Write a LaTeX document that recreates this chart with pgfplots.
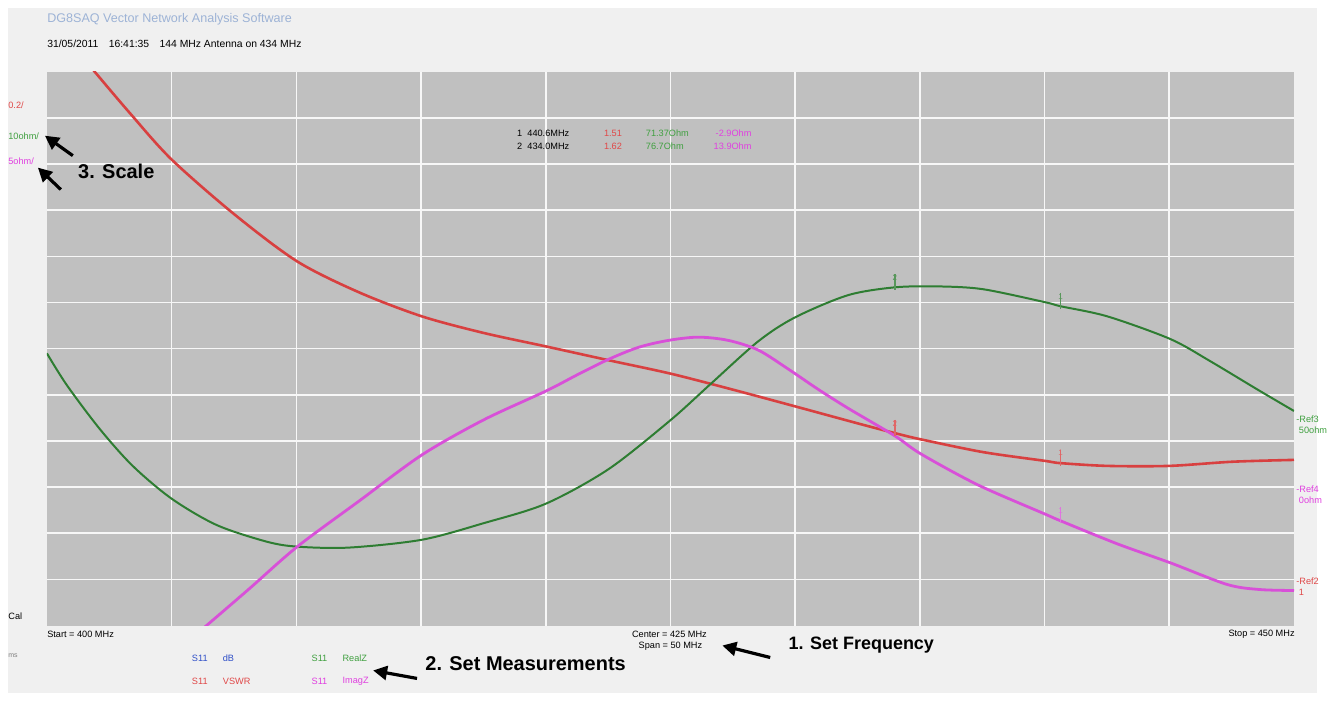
\documentclass[border=0pt]{standalone}
\usepackage{pgfplots}
\pgfplotsset{compat=1.18}
\usepackage{fontspec}
\setmainfont{Liberation Sans}
\usetikzlibrary{arrows.meta}
\definecolor{bgout}{HTML}{F0F0F0}
\definecolor{plotbg}{HTML}{C0C0C0}
\definecolor{vswr}{HTML}{D84040}
\definecolor{realz}{HTML}{2E7D32}
\definecolor{imagz}{HTML}{D850D8}
\definecolor{titleblue}{HTML}{9DB3D6}
\definecolor{dbblue}{HTML}{3050C8}
\definecolor{lblred}{HTML}{E04848}
\definecolor{lblgreen}{HTML}{40A040}
\definecolor{lblmag}{HTML}{E040E0}
\newcommand{\sm}{\fontsize{4.6}{5.5}\selectfont}
\newcommand{\bg}{\fontsize{10}{12}\selectfont\bfseries}
\begin{document}
\begin{tikzpicture}
\begin{scope}[x=0.5pt,y=-0.5pt]
\fill[white] (0,0) rectangle (1327,702);
\useasboundingbox (0,0) rectangle (1327,702);
\fill[bgout] (8,8) rectangle (1320,695);
\end{scope}
\begin{axis}[at={(23.5pt,-313.5pt)}, anchor=south west, scale only axis,
  width=625pt, height=277.5pt,
  xmin=400, xmax=450, ymin=0, ymax=12,
  xtick={405,410,...,445}, ytick={1,2,...,11},
  xticklabels={}, yticklabels={}, major tick length=0pt,
  grid=major, major grid style={white!94!gray, line width=0.8pt},
  axis line style={draw=none}, axis background/.style={fill=plotbg},
  clip=true]
% S11 VSWR (grid divisions: Ref 1 at div 1, 0.2/div)
\addplot[vswr, line width=1.3pt, smooth] coordinates {
(401.52,12.26) (401.92,12.0) (403.32,11.11) (405,10.10) (407.52,8.91) (410.04,7.89)
(412.52,7.22) (415.04,6.70) (417.52,6.34) (420,6.05) (422.52,5.75) (425,5.46)
(427.52,5.11) (430,4.75) (432.52,4.38) (434,4.17) (435,4.04) (437.52,3.76)
(440,3.57) (440.64,3.52) (442.52,3.46) (445,3.46) (447.52,3.55) (450,3.59)};
% S11 Real Z
\addplot[realz, line width=1.0pt, smooth] coordinates {
(400,5.90) (400.8,5.21) (402.12,4.26) (403.44,3.46) (405,2.75) (406.8,2.18)
(408.8,1.82) (410.04,1.71) (412.12,1.69) (415.04,1.86) (417.52,2.22) (420,2.64)
(422.52,3.39) (425,4.45) (426.6,5.23) (428.52,6.16) (430,6.68) (432.12,7.16)
(434,7.33) (435.72,7.35) (437.52,7.29) (440,7.01) (440.64,6.92) (442.52,6.70)
(445.04,6.21) (446.64,5.73) (448.52,5.12) (450,4.65)};
% S11 Imag Z
\addplot[imagz, line width=1.4pt, smooth] coordinates {
(405.92,-0.22) (406.4,0) (408.12,0.80) (410.04,1.71) (412.52,2.70) (415.04,3.70)
(417.52,4.46) (420,5.08) (421.32,5.45) (422.52,5.77) (423.72,6.03) (424.92,6.18)
(426.12,6.25) (427.32,6.18) (428.52,5.97) (429.72,5.56) (430.92,5.12) (432.12,4.71)
(434,4.11) (435.04,3.72) (437.32,3.05)
(440,2.42) (440.64,2.27) (442.92,1.77) (445.04,1.36) (447.32,0.89) (448.64,0.78)
(450,0.76)};
% marker flags
\addplot[realz!80!white, only marks, mark=|, mark size=4pt, mark options={line width=0.6pt},
  nodes near coords={\fontsize{4}{4}\selectfont\pgfplotspointmeta}, point meta=explicit symbolic,
  nodes near coords style={anchor=south, inner sep=0.5pt}] coordinates {(434,7.45)[2] (440.64,7.04)[1]};
\addplot[vswr!80!white, only marks, mark=|, mark size=4pt, mark options={line width=0.6pt},
  nodes near coords={\fontsize{4}{4}\selectfont\pgfplotspointmeta}, point meta=explicit symbolic,
  nodes near coords style={anchor=south, inner sep=0.5pt}] coordinates {(434,4.29)[2] (440.64,3.64)[1]};
\addplot[imagz!80!white, only marks, mark=|, mark size=4pt, mark options={line width=0.6pt},
  nodes near coords={\fontsize{4}{4}\selectfont\pgfplotspointmeta}, point meta=explicit symbolic,
  nodes near coords style={anchor=south, inner sep=0.5pt}] coordinates {(440.64,2.39)[1]};
\end{axis}
\begin{scope}[x=0.5pt,y=-0.5pt]
% header
\node[anchor=west, inner sep=0, text=titleblue, font=\fontsize{6.3}{7}\selectfont] at (47,19) {DG8SAQ Vector Network Analysis Software};
\node[anchor=west, inner sep=0, font=\fontsize{5.2}{6}\selectfont] at (47,44) {31/05/2011\quad 16:41:35\quad 144 MHz Antenna on 434 MHz};
% marker table
\node[anchor=west, inner sep=0, font=\sm] at (518,134) {1\ \ 440.6MHz};
\node[anchor=west, inner sep=0, font=\sm] at (518,147) {2\ \ 434.0MHz};
\node[anchor=west, inner sep=0, font=\sm, text=lblred] at (605,134) {1.51};
\node[anchor=west, inner sep=0, font=\sm, text=lblred] at (605,147) {1.62};
\node[anchor=west, inner sep=0, font=\sm, text=lblgreen] at (647,134) {71.37Ohm};
\node[anchor=west, inner sep=0, font=\sm, text=lblgreen] at (647,147) {76.7Ohm};
\node[anchor=west, inner sep=0, font=\sm, text=lblmag] at (717,134) {-2.9Ohm};
\node[anchor=west, inner sep=0, font=\sm, text=lblmag] at (715,147) {13.9Ohm};
% left scale labels
\node[anchor=west, inner sep=0, font=\sm, text=lblred] at (8,105) {0.2/};
\node[anchor=west, inner sep=0, font=\sm, text=lblgreen] at (8,137) {10ohm/};
\node[anchor=west, inner sep=0, font=\sm, text=lblmag] at (8,162) {5ohm/};
\node[anchor=west, inner sep=0, font=\sm] at (8,618) {Cal};
\node[anchor=west, inner sep=0, font=\fontsize{3.5}{4}\selectfont, text=gray] at (8,657) {ms};
% right reference labels
\node[anchor=west, inner sep=0, font=\sm, text=lblgreen, align=left] at (1299,426) {-Ref3\\\ 50ohm};
\node[anchor=west, inner sep=0, font=\sm, text=lblmag, align=left] at (1299,496) {-Ref4\\\ 0ohm};
\node[anchor=west, inner sep=0, font=\sm, text=lblred, align=left] at (1299,588) {-Ref2\\\ 1};
% frequency labels
\node[anchor=west, inner sep=0, font=\sm] at (47,636) {Start = 400 MHz};
\node[anchor=center, inner sep=0, font=\sm] at (671,636) {Center = 425 MHz};
\node[anchor=center, inner sep=0, font=\sm] at (672,648) {Span = 50 MHz};
\node[anchor=east, inner sep=0, font=\sm] at (1298,636) {Stop = 450 MHz};
% measurement labels
\node[anchor=west, inner sep=0, font=\sm, text=dbblue] at (192,660) {S11};
\node[anchor=west, inner sep=0, font=\sm, text=dbblue] at (223,660) {dB};
\node[anchor=west, inner sep=0, font=\sm, text=lblred] at (192,683) {S11};
\node[anchor=west, inner sep=0, font=\sm, text=lblred] at (223,683) {VSWR};
\node[anchor=west, inner sep=0, font=\sm, text=lblgreen] at (312,660) {S11};
\node[anchor=west, inner sep=0, font=\sm, text=lblgreen] at (343,660) {RealZ};
\node[anchor=west, inner sep=0, font=\sm, text=lblmag] at (312,683) {S11};
\node[anchor=west, inner sep=0, font=\sm, text=lblmag] at (343,683) {ImagZ};
% annotations
\node[anchor=west, inner sep=0, font=\bg] at (78,172) {3. Scale};
\node[anchor=west, inner sep=0, font=\bg] at (426,665) {2. Set Measurements};
\node[anchor=west, inner sep=0, font=\fontsize{9}{11}\selectfont\bfseries] at (790,647) {1. Set Frequency};
\draw[line width=1.6pt, -{Triangle[length=7pt,width=7pt]}] (73,156) -- (45,136);
\draw[line width=1.6pt, -{Triangle[length=7pt,width=7pt]}] (61,190) -- (38,168);
\draw[line width=1.6pt, -{Triangle[length=7pt,width=7pt]}] (772,659) -- (724,647);
\draw[line width=1.6pt, -{Triangle[length=7pt,width=7pt]}] (418,680) -- (374,672);
\end{scope}
\end{tikzpicture}
\end{document}
